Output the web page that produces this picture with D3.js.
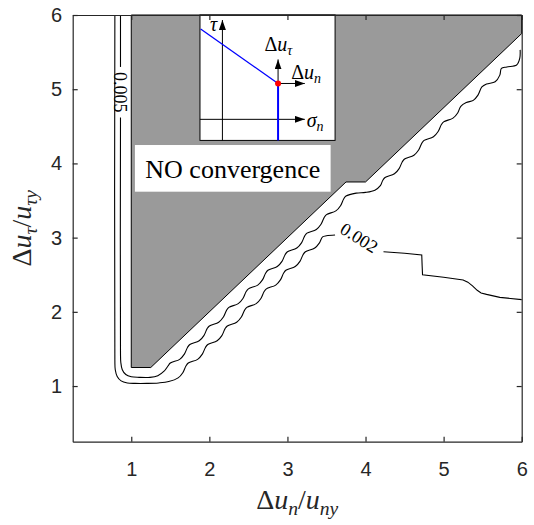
<!DOCTYPE html>
<html>
<head>
<meta charset="utf-8">
<script src="https://cdn.jsdelivr.net/npm/d3@7"></script>
<style>
  body { margin: 0; background: #fff; }
  svg { display: block; }
</style>
</head>
<body>
<div id="chart"></div>
<script>
const xTicks = [1, 2, 3, 4, 5, 6];
const yTicks = [1, 2, 3, 4, 5, 6];
const xDomain = [0.25, 6];
const yDomain = [0.25, 6];

// region where the solver did not converge
const noConvergence = [[1, 6], [1, 1.25], [1.25, 1.25], [3.75, 3.75], [4, 3.75], [6, 5.75], [6, 6]];

// 0.005 contour (split where its label sits)
const contour005Top = [[0.862, 6.0], [0.862, 5.30]];
const contour005 = [
  [0.862, 4.62], [0.862, 1.45], [0.866, 1.32], [0.885, 1.22], [0.93, 1.155], [1.0, 1.125],
  [1.10, 1.117], [1.24, 1.117], [1.34, 1.14], [1.42, 1.20], [1.47, 1.27],
  [1.50, 1.31], [1.62, 1.36], [1.68, 1.43], [1.72, 1.52],
  [1.75, 1.56], [1.87, 1.61], [1.93, 1.68], [1.97, 1.77],
  [2.00, 1.81], [2.12, 1.86], [2.18, 1.93], [2.22, 2.02],
  [2.25, 2.06], [2.37, 2.11], [2.43, 2.18], [2.47, 2.27],
  [2.50, 2.31], [2.62, 2.36], [2.68, 2.43], [2.72, 2.52],
  [2.75, 2.56], [2.87, 2.61], [2.93, 2.68], [2.97, 2.77],
  [3.00, 2.81], [3.12, 2.86], [3.18, 2.93], [3.22, 3.02],
  [3.25, 3.06], [3.37, 3.11], [3.43, 3.18], [3.47, 3.27],
  [3.50, 3.31], [3.62, 3.36], [3.68, 3.43], [3.72, 3.52],
  [3.75, 3.56], [3.88, 3.60], [4.00, 3.61], [4.12, 3.64], [4.19, 3.70], [4.22, 3.77],
  [4.25, 3.81], [4.37, 3.86], [4.43, 3.93], [4.47, 4.02],
  [4.50, 4.06], [4.62, 4.11], [4.68, 4.18], [4.72, 4.27],
  [4.75, 4.31], [4.87, 4.36], [4.93, 4.43], [4.97, 4.52],
  [5.00, 4.56], [5.12, 4.61], [5.18, 4.68], [5.22, 4.77],
  [5.29, 4.82], [5.38, 4.85], [5.44, 4.92], [5.49, 5.03],
  [5.55, 5.07], [5.66, 5.10], [5.72, 5.19], [5.74, 5.28],
  [5.81, 5.30], [5.935, 5.326], [5.975, 5.416], [5.98, 5.53]
];

// 0.002 contour, before and after its label
const contour002 = [
  [0.79, 6.0], [0.79, 1.35], [0.795, 1.22], [0.82, 1.13], [0.87, 1.07], [0.95, 1.042],
  [1.05, 1.036], [1.20, 1.036], [1.35, 1.042],
  [1.48, 1.06], [1.60, 1.11], [1.66, 1.18], [1.70, 1.27],
  [1.73, 1.31], [1.85, 1.36], [1.91, 1.43], [1.95, 1.52],
  [1.98, 1.56], [2.10, 1.61], [2.16, 1.68], [2.20, 1.77],
  [2.23, 1.81], [2.35, 1.86], [2.41, 1.93], [2.45, 2.02],
  [2.48, 2.06], [2.60, 2.11], [2.66, 2.18], [2.70, 2.27],
  [2.73, 2.31], [2.85, 2.36], [2.91, 2.43], [2.95, 2.52],
  [2.98, 2.56], [3.10, 2.61], [3.16, 2.68], [3.20, 2.77],
  [3.23, 2.81], [3.35, 2.86], [3.41, 2.93], [3.45, 3.01],
  [3.50, 3.025], [3.61, 3.035]
];
const contour002Tail = [
  [4.23, 2.81], [4.50, 2.79], [4.72, 2.765], [4.725, 2.62], [4.73, 2.50], [5.00, 2.465],
  [5.25, 2.43], [5.31, 2.40], [5.37, 2.35], [5.43, 2.29], [5.48, 2.255], [5.55, 2.235],
  [5.72, 2.195], [6.0, 2.165]
];

const levelLabels = ["0.005", "0.002"];
const levelLabelAt = [[0.862, 4.96], [3.92, 3.0]];
const levelLabelAngle = [90, 32];

// inset sketch, its box in main axes units and its content in 0..1 units
const insetBox = [[1.88, 4.31], [3.61, 6.0]];
const sigmaAxis = [[0, 0.168], [0.776, 0.168]];
const tauAxis = [[0.166, 0], [0.166, 0.96]];
const yieldPath = [[0.005, 0.888], [0.578, 0.454]];
const yieldCut = [[0.578, 0.454], [0.578, 0]];
const loadPoint = [0.578, 0.454];
const duTauArrow = [[0.578, 0.454], [0.578, 0.646]];
const duNArrow = [[0.578, 0.454], [0.776, 0.454]];

const textBox = [[1.047, 3.619], [3.553, 4.248]];
const textBoxLabel = "NO convergence";

const W = 534, H = 525;
const margin = {top: 15, right: 12.3, bottom: 83.3, left: 72.7};
const axisColor = "#262626";
const serif = "'Liberation Serif', 'DejaVu Serif', serif";
const sans = "'Liberation Sans', Arial, sans-serif";

const svg = d3.select("#chart").append("svg")
  .attr("width", W).attr("height", H);

const defs = svg.append("defs");
defs.append("marker")
  .attr("id", "arrow")
  .attr("viewBox", "0 0 10 7")
  .attr("refX", 10).attr("refY", 3.5)
  .attr("markerWidth", 10).attr("markerHeight", 7)
  .attr("markerUnits", "userSpaceOnUse")
  .attr("orient", "auto")
  .append("path").attr("d", "M0,0 L10,3.5 L0,7 Z").attr("fill", "#000");

const x = d3.scaleLinear().domain(xDomain).range([margin.left, W - margin.right]);
const y = d3.scaleLinear().domain(yDomain).range([H - margin.bottom, margin.top]);

const line = d3.line().x(d => x(d[0])).y(d => y(d[1]));
const smooth = d3.line().x(d => x(d[0])).y(d => y(d[1])).curve(d3.curveCatmullRom.alpha(0.5));

const plot = svg.append("g");

// gray patch
plot.append("path")
  .attr("d", line(noConvergence) + "Z")
  .attr("fill", "#9a9a9a")
  .attr("stroke", "#000")
  .attr("stroke-width", 1);

// contour lines
[contour005Top, contour005, contour002].forEach(c => {
  plot.append("path")
    .attr("d", smooth(c))
    .attr("fill", "none")
    .attr("stroke", "#000")
    .attr("stroke-width", 1.1);
});
plot.append("path")
  .attr("d", line(contour002Tail))
  .attr("fill", "none")
  .attr("stroke", "#000")
  .attr("stroke-width", 1.1);

levelLabels.forEach((t, i) => {
  const [lx, ly] = levelLabelAt[i];
  plot.append("text")
    .attr("transform", `translate(${x(lx)},${y(ly)}) rotate(${levelLabelAngle[i]})`)
    .attr("text-anchor", "middle")
    .attr("dy", "0.35em")
    .attr("font-family", serif)
    .attr("font-size", 18)
    .text(t);
});

// helper for the math-like labels: parts are [text, kind] with kind r/i/s
function mathText(sel, parts, size) {
  let sub = false;
  parts.forEach(([t, kind]) => {
    const ts = sel.append("tspan").text(t);
    if (kind === "i" || kind === "s") ts.attr("font-style", "italic");
    if (kind === "s") {
      ts.attr("font-size", size * 0.7);
      if (!sub) { ts.attr("dy", size * 0.2); sub = true; }
    } else {
      ts.attr("font-size", size);
      if (sub) { ts.attr("dy", -size * 0.2); sub = false; }
    }
  });
}

// inset
const ix = d3.scaleLinear().domain([0, 1]).range([x(insetBox[0][0]), x(insetBox[1][0])]);
const iy = d3.scaleLinear().domain([0, 1]).range([y(insetBox[0][1]), y(insetBox[1][1])]);
const iline = d3.line().x(d => ix(d[0])).y(d => iy(d[1]));
const inset = svg.append("g");
inset.append("rect")
  .attr("x", ix(0)).attr("y", iy(1))
  .attr("width", ix(1) - ix(0)).attr("height", iy(0) - iy(1))
  .attr("fill", "#fff").attr("stroke", "#000").attr("stroke-width", 1);
[sigmaAxis, tauAxis].forEach(a => {
  inset.append("path").attr("d", iline(a))
    .attr("stroke", "#000").attr("stroke-width", 1).attr("fill", "none")
    .attr("marker-end", "url(#arrow)");
});
inset.append("path").attr("d", iline(yieldPath))
  .attr("stroke", "#0000ff").attr("stroke-width", 1.3).attr("fill", "none");
inset.append("path").attr("d", iline(yieldCut))
  .attr("stroke", "#0000ff").attr("stroke-width", 2).attr("fill", "none");
[duTauArrow, duNArrow].forEach(a => {
  inset.append("path").attr("d", iline(a))
    .attr("stroke", "#000").attr("stroke-width", 1).attr("fill", "none")
    .attr("marker-end", "url(#arrow)");
});
inset.append("circle")
  .attr("cx", ix(loadPoint[0])).attr("cy", iy(loadPoint[1]))
  .attr("r", 3).attr("fill", "#ff0000");

const insetLabels = [
  {parts: [["τ", "i"]], at: [0.10, 0.872], anchor: "middle"},
  {parts: [["Δ", "r"], ["u", "i"], ["τ", "s"]], at: [0.58, 0.71], anchor: "middle"},
  {parts: [["Δ", "r"], ["u", "i"], ["n", "s"]], at: [0.675, 0.49], anchor: "start"},
  {parts: [["σ", "i"], ["n", "s"]], at: [0.79, 0.104], anchor: "start"}
];
insetLabels.forEach(l => {
  const t = inset.append("text")
    .attr("x", ix(l.at[0])).attr("y", iy(l.at[1]))
    .attr("text-anchor", l.anchor)
    .attr("font-family", serif);
  mathText(t, l.parts, 20);
});

// text box
svg.append("rect")
  .attr("x", x(textBox[0][0])).attr("y", y(textBox[1][1]))
  .attr("width", x(textBox[1][0]) - x(textBox[0][0]))
  .attr("height", y(textBox[0][1]) - y(textBox[1][1]))
  .attr("fill", "#fff");
svg.append("text")
  .attr("x", (x(textBox[0][0]) + x(textBox[1][0])) / 2)
  .attr("y", y(textBox[0][1]) - 13.5)
  .attr("text-anchor", "middle")
  .attr("font-family", serif)
  .attr("font-size", 26)
  .text(textBoxLabel);

// axes box with inward ticks on all sides
const axes = svg.append("g").attr("color", axisColor);
const tick = -5;
axes.append("g").attr("transform", `translate(0,${y(yDomain[0])})`)
  .call(d3.axisBottom(x).tickValues(xTicks).tickFormat(d3.format("d")).tickSizeInner(tick).tickSizeOuter(0).tickPadding(20));
axes.append("g").attr("transform", `translate(0,${y(yDomain[1])})`)
  .call(d3.axisTop(x).tickValues(xTicks).tickSizeInner(tick).tickSizeOuter(0).tickFormat(""));
axes.append("g").attr("transform", `translate(${x(xDomain[0])},0)`)
  .call(d3.axisLeft(y).tickValues(yTicks).tickFormat(d3.format("d")).tickSizeInner(tick).tickSizeOuter(0).tickPadding(10.5));
axes.append("g").attr("transform", `translate(${x(xDomain[1])},0)`)
  .call(d3.axisRight(y).tickValues(yTicks).tickSizeInner(tick).tickSizeOuter(0).tickFormat(""));
axes.selectAll(".domain").attr("stroke-width", 1.2);
axes.selectAll(".tick line").attr("stroke-width", 1.2);
axes.selectAll(".tick text")
  .attr("font-family", sans)
  .attr("font-size", 20)
  .attr("fill", axisColor);

// axis titles
const xt = svg.append("text")
  .attr("x", (x(xDomain[0]) + x(xDomain[1])) / 2)
  .attr("y", 509)
  .attr("text-anchor", "middle")
  .attr("font-family", serif)
  .attr("fill", axisColor);
mathText(xt, [["Δ", "r"], ["u", "i"], ["n", "s"], ["/", "r"], ["u", "i"], ["ny", "s"]], 28);

const yt = svg.append("text")
  .attr("transform", `translate(31,${(y(yDomain[0]) + y(yDomain[1])) / 2}) rotate(-90)`)
  .attr("text-anchor", "middle")
  .attr("font-family", serif)
  .attr("fill", axisColor);
mathText(yt, [["Δ", "r"], ["u", "i"], ["τ", "s"], ["/", "r"], ["u", "i"], ["τy", "s"]], 28);
</script>
</body>
</html>
